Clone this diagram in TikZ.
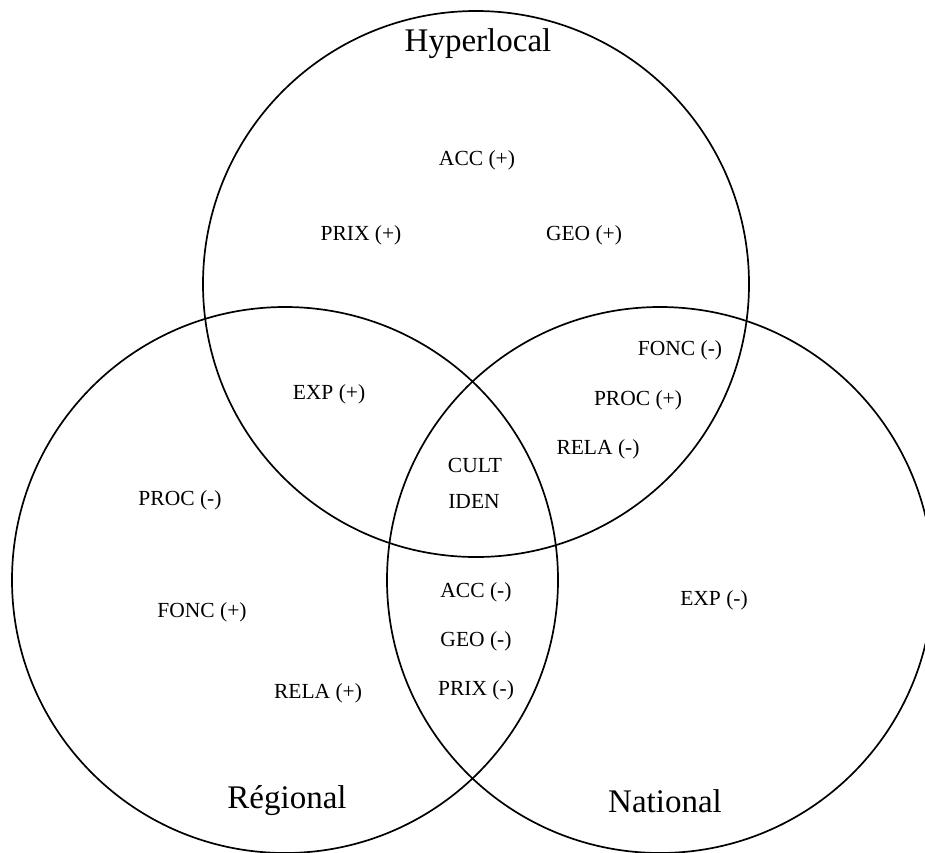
\documentclass[tikz,border=0pt]{standalone}
\usepackage{fontspec}
\setmainfont{Liberation Serif}
\begin{document}
\begin{tikzpicture}[x=1pt,y=-1pt,
  ring/.style={draw=black,line width=1.7pt},
  setname/.style={inner sep=0pt,font=\fontsize{33}{38}\selectfont},
  item/.style={inner sep=0pt,font=\fontsize{21.5}{25}\selectfont}]
  \useasboundingbox (0,0) rectangle (925,852);
  \begin{scope}
    \clip (0,0) rectangle (925,852);
    \draw[ring] (476,284) circle[radius=273];
    \draw[ring] (285,580) circle[radius=273];
    \draw[ring] (660,580) circle[radius=273];
  \end{scope}
  % set names
  \node[setname] (hyp) at (478,44) {Hyperlocal};
  \node[setname] (reg) at (287,801) {Régional};
  \node[setname] (nat) at (665,801) {National};
  % hyperlocal only
  \node[item] (accp) at (477,160) {ACC (+)};
  \node[item] (prixp) at (361,235) {PRIX (+)};
  \node[item] (geop) at (584,235) {GEO (+)};
  % hyperlocal and regional
  \node[item] (expp) at (329,394) {EXP (+)};
  % hyperlocal and national
  \node[item] (foncm) at (680,350) {FONC (-)};
  \node[item] (procp) at (638,400) {PROC (+)};
  \node[item] (relam) at (598,449) {RELA (-)};
  % all three
  \node[item] (cult) at (475,465) {CULT};
  \node[item] (iden) at (474,501) {IDEN};
  % regional only
  \node[item] (procm) at (180,500) {PROC (-)};
  \node[item] (foncp) at (202,612) {FONC (+)};
  \node[item] (relap) at (318,693) {RELA (+)};
  % regional and national
  \node[item] (accm) at (476,592) {ACC (-)};
  \node[item] (geom) at (476,641) {GEO (-)};
  \node[item] (prixm) at (476,690) {PRIX (-)};
  % national only
  \node[item] (expm) at (714,600) {EXP (-)};
\end{tikzpicture}
\end{document}
